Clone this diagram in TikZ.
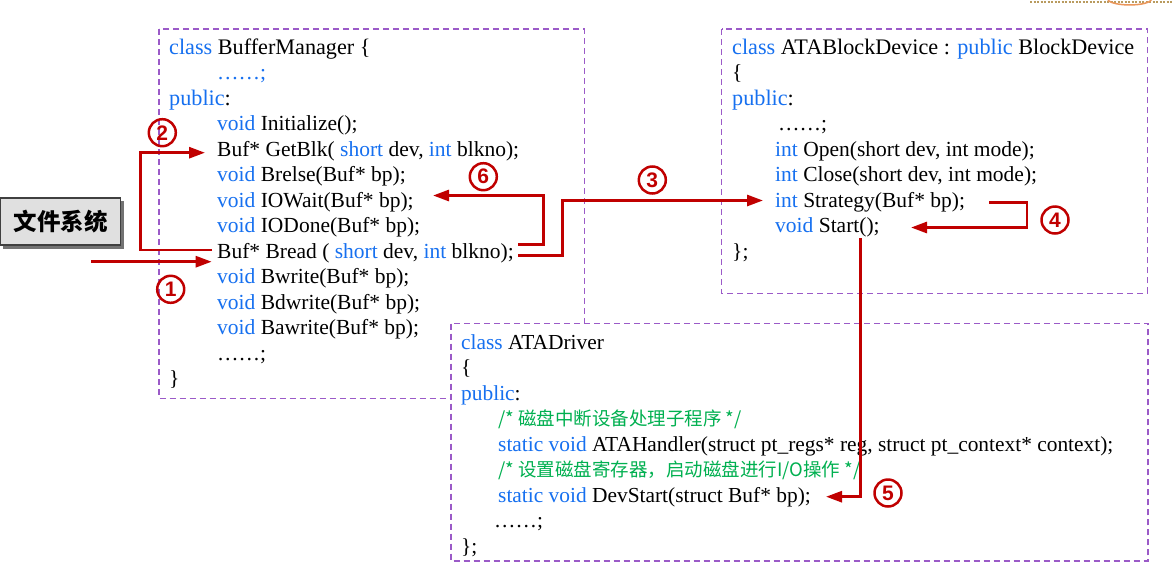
\documentclass[tikz,border=0pt]{standalone}
\usepackage{fontspec}
\setmainfont{Liberation Serif}
\newfontfamily\cjk{Noto Sans CJK SC}
\newfontfamily\numfont{Liberation Sans}
\usetikzlibrary{arrows.meta}
\definecolor{kw}{RGB}{22,112,240}
\definecolor{cm}{RGB}{0,176,80}
\definecolor{ar}{RGB}{192,0,0}
\definecolor{bx}{RGB}{155,90,200}
\definecolor{fsfill}{RGB}{224,224,224}
\definecolor{deco}{RGB}{185,155,95}
\definecolor{deco2}{RGB}{235,150,90}
\newcommand\kw[1]{\textcolor{kw}{#1}}
\begin{document}
\begin{tikzpicture}[x=1pt,y=-1pt,
 codebox/.style={draw=bx, dash pattern=on 6pt off 4pt, line width=1.3pt},
 ln/.style={anchor=base west, inner sep=0pt, font=\fontsize{21.5}{24}\selectfont},
 lnw/.style={anchor=base west, inner sep=0pt, font=\fontsize{22.2}{24}\selectfont},
 lnc/.style={anchor=base west, inner sep=0pt, font=\fontsize{21.4}{24}\selectfont},
 cmt/.style={anchor=base west, inner sep=0pt, text=cm, font=\cjk\fontsize{18.5}{22}\selectfont},
 flow/.style={draw=ar, line width=2.8pt, -{Triangle[length=16pt,width=11pt]}},
 num/.style={circle, draw=ar, line width=2.5pt, minimum size=27pt, inner sep=0pt, text=ar, font=\numfont\bfseries\fontsize{21}{21}\selectfont},
]
\useasboundingbox[fill=white] (0,0) rectangle (1172,579);

% top-right decoration
\draw[deco, line width=2pt, dash pattern=on 2pt off 1.5pt] (1030,2) -- (1172,2);
\draw[deco2, line width=1.5pt] (1108,0) arc[start angle=190, end angle=350, x radius=22pt, y radius=6pt];

% BufferManager box
\draw[codebox] (159,29) rectangle (584.5,398.5);
\node[lnw] (b1) at (169,54) {\kw{class} BufferManager \{};
\node[ln] (b2) at (217,79.5) {\kw{……;}};
\node[lnw] (b3) at (169,105) {\kw{public}:};
\node[ln] (b4) at (217,130.5) {\kw{void} Initialize();};
\node[ln] (b5) at (217,156) {Buf* GetBlk( \kw{short} dev, \kw{int} blkno);};
\node[ln] (b6) at (217,181.5) {\kw{void} Brelse(Buf* bp);};
\node[ln] (b7) at (217,207) {\kw{void} IOWait(Buf* bp);};
\node[ln] (b8) at (217,232.5) {\kw{void} IODone(Buf* bp);};
\node[ln] (b9) at (217,258) {Buf* Bread ( \kw{short} dev, \kw{int} blkno);};
\node[ln] (b10) at (217,283.5) {\kw{void} Bwrite(Buf* bp);};
\node[ln] (b11) at (217,309) {\kw{void} Bdwrite(Buf* bp);};
\node[ln] (b12) at (217,334.5) {\kw{void} Bawrite(Buf* bp);};
\node[ln] (b13) at (217,360) {……;};
\node[ln] (b14) at (169,385.5) {\}};

% ATABlockDevice box
\draw[codebox] (721.7,29) rectangle (1147.5,293.3);
\node[lnw] (d1) at (732,54) {\kw{class} ATABlockDevice : \kw{public} BlockDevice};
\node[ln] (d2) at (732,79.5) {\{};
\node[lnw] (d3) at (732,105) {\kw{public}:};
\node[ln] (d4) at (778,130.5) {……;};
\node[ln] (d5) at (775,156) {\kw{int} Open(short dev, int mode);};
\node[ln] (d6) at (775,181.5) {\kw{int} Close(short dev, int mode);};
\node[ln] (d7) at (775,207) {\kw{int} Strategy(Buf* bp);};
\node[ln] (d8) at (775,232.5) {\kw{void} Start();};
\node[ln] (d9) at (732,258) {\};};

% ATADriver box
\draw[codebox, fill=white] (451,323.7) rectangle (1148,561);
\node[lnc] (r1) at (461,349) {\kw{class} ATADriver};
\node[lnc] (r2) at (461,374.5) {\{};
\node[lnc] (r3) at (461,400) {\kw{public}:};
\node[cmt] (r4) at (498,425.5) {/* 磁盘中断设备处理子程序 */};
\node[lnc] (r5) at (498,451) {\kw{static void} ATAHandler(struct pt\_regs* reg, struct pt\_context* context);};
\node[cmt] (r6) at (498,476.5) {/* 设置磁盘寄存器，启动磁盘进行I/O操作 */};
\node[lnc] (r7) at (498,502) {\kw{static void} DevStart(struct Buf* bp);};
\node[lnc] (r8) at (494,527.5) {……;};
\node[lnc] (r9) at (461,553) {\};};

% file system box
\fill[black!55] (3,201) rectangle (124,249);
\node[draw=black!75, line width=1.5pt, fill=fsfill, minimum width=120pt, minimum height=47pt, inner sep=0pt,
      font=\cjk\bfseries\fontsize{23.5}{24}\selectfont] (fs) at (60.5,221.5) {文件系统};

% connector coordinates
\coordinate (s1) at (91,261.7);
\coordinate (e1) at (211.7,261.7);
\coordinate (s2) at (212,250);
\coordinate (k2a) at (140.7,250);
\coordinate (k2b) at (140.7,152.7);
\coordinate (e2) at (205,152.7);
\coordinate (s6) at (518,244.3);
\coordinate (k6a) at (543.3,244.3);
\coordinate (k6b) at (543.3,195.5);
\coordinate (e6) at (433,195.5);
\coordinate (s3) at (518,255.5);
\coordinate (k3a) at (562.3,255.5);
\coordinate (k3b) at (562.3,200.5);
\coordinate (e3) at (763,200.5);
\coordinate (s4) at (989,202.3);
\coordinate (k4a) at (1027,202.3);
\coordinate (k4b) at (1027,227.5);
\coordinate (e4) at (911,227.5);
\coordinate (s5) at (860.7,238.3);
\coordinate (k5) at (860.7,496.7);
\coordinate (e5) at (826,496.7);

% connectors
\draw[flow] (s1) -- (e1);
\draw[flow] (s2) -- (k2a) -- (k2b) -- (e2);
\draw[flow] (s6) -- (k6a) -- (k6b) -- (e6);
\draw[flow] (s3) -- (k3a) -- (k3b) -- (e3);
\draw[flow] (s4) -- (k4a) -- (k4b) -- (e4);
\draw[flow] (s5) -- (k5) -- (e5);

% step numbers
\node[num] (n1) at (170.7,289.3) {1};
\node[num] (n2) at (162.3,132.7) {2};
\node[num] (n3) at (652.3,180) {3};
\node[num] (n4) at (1055,220) {4};
\node[num] (n5) at (888,493) {5};
\node[num] (n6) at (483.3,176.7) {6};
\end{tikzpicture}
\end{document}
